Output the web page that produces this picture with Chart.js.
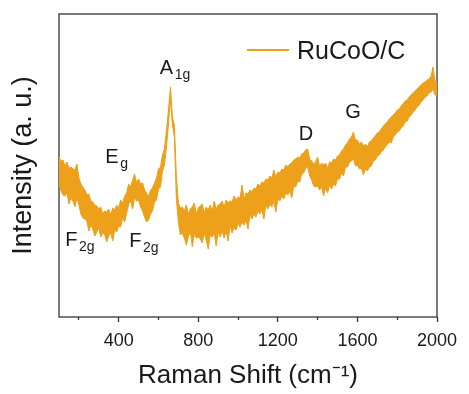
<!DOCTYPE html>
<html><head><meta charset="utf-8">
<script src="https://cdn.jsdelivr.net/npm/chart.js@4.4.1/dist/chart.umd.min.js"></script>
<style>html,body{margin:0;padding:0;background:#fff}#wrap{width:469px;height:394px}</style>
</head><body><div id="wrap"><canvas id="c" width="469" height="394"></canvas></div>
<script>
// Raman shift (cm-1)
const ramanShift = [
100,110,120,130,140,150,160,170,180,190,
200,210,220,230,240,250,260,270,280,290,
300,310,320,330,340,350,360,370,380,390,
400,410,420,430,440,450,460,470,480,490,
500,510,520,530,540,550,560,570,580,590,
600,610,620,630,640,650,660,670,680,690,
700,710,720,730,740,750,760,770,780,790,
800,810,820,830,840,850,860,870,880,890,
900,910,920,930,940,950,960,970,980,990,
1000,1010,1020,1030,1040,1050,1060,1070,1080,1090,
1100,1110,1120,1130,1140,1150,1160,1170,1180,1190,
1200,1210,1220,1230,1240,1250,1260,1270,1280,1290,
1300,1310,1320,1330,1340,1350,1360,1370,1380,1390,
1400,1410,1420,1430,1440,1450,1460,1470,1480,1490,
1500,1510,1520,1530,1540,1550,1560,1570,1580,1590,
1600,1610,1620,1630,1640,1650,1660,1670,1680,1690,
1700,1710,1720,1730,1740,1750,1760,1770,1780,1790,
1800,1810,1820,1830,1840,1850,1860,1870,1880,1890,
1900,1910,1920,1930,1940,1950,1960,1970,1980,1990,
2000];
// Intensity (a.u.): upper and lower edge of the noisy trace
const intensityUpper = [
160,156,157,151,155,149,150,148,147,153,
139,133,130,127,122,123,116,115,112,111,
108,110,103,106,105,108,102,109,107,112,
109,117,114,121,124,133,130,137,143,134,
138,133,134,127,124,120,127,129,134,139,
148,150,162,168,186,206,230,200,192,140,
114,109,110,106,112,103,108,110,114,103,
109,111,113,104,110,107,112,106,116,108,
112,113,116,110,117,114,116,115,121,117,
120,119,132,118,124,123,127,125,129,128,
133,131,135,134,138,137,141,139,147,140,
145,144,148,147,152,150,153,154,157,158,
160,159,163,164,167,168,158,156,153,155,
160,150,154,152,154,149,155,154,158,157,
161,162,166,168,172,174,178,180,185,177,
177,173,175,171,173,170,175,176,179,181,
184,185,188,191,193,195,198,200,202,204,
207,208,211,213,216,217,220,222,224,226,
228,230,232,234,235,237,238,241,250,236,
235];
const intensityLower = [
133,126,122,121,124,113,119,116,110,119,
112,103,99,98,96,86,92,88,81,85,
89,80,84,82,75,81,84,76,87,85,
91,90,99,95,104,113,116,108,120,116,
117,110,106,100,95,97,103,106,115,117,
128,130,146,152,170,192,218,192,180,118,
95,82,84,79,72,80,86,70,83,79,
80,78,74,84,77,68,82,80,84,71,
85,80,86,79,86,76,92,84,89,87,
94,90,95,92,97,88,102,98,103,100,
106,103,107,98,112,108,113,110,116,105,
118,116,121,118,124,122,126,119,131,130,
136,135,143,144,149,150,141,137,131,130,
131,127,130,121,129,124,132,128,133,131,
138,138,144,141,150,150,155,156,158,151,
152,148,149,142,148,146,150,151,156,157,
161,162,165,167,170,172,175,174,180,182,
185,186,189,191,195,196,200,202,205,207,
210,212,215,217,220,221,224,225,228,222,
222];
const seriesName = 'RuCoO/C';
const xMajorTicks = [400, 800, 1200, 1600, 2000];
const xMinorTicks = [200, 600, 1000, 1400, 1800];
// peak annotations: main letter, subscript, anchor (shift, intensity)
const peakMain = ['F', 'E', 'A', 'F', 'D', 'G'];
const peakSub = ['2g', 'g', '1g', '2g', '', ''];
const peakAtShift = [131, 333, 607, 453, 1305, 1539];
const peakAtLevel = [71, 154, 243, 70, 177, 199];

const FONT = "'Liberation Sans', Arial, Helvetica, sans-serif";
const LINE_COLOR = '#EDA01A';
const INK = '#1a1a1a';
const AXIS = '#333333';

const decor = {
  id: 'decor',
  beforeDatasetsDraw(chart) {
    const {ctx, chartArea: a} = chart;
    ctx.save();
    ctx.strokeStyle = AXIS; ctx.lineWidth = 1.3;
    ctx.strokeRect(a.left, a.top, a.right - a.left, a.bottom - a.top);
    ctx.restore();
  },
  afterDatasetsDraw(chart) {
    const {ctx} = chart;
    const xs = chart.scales.x, ys = chart.scales.y;
    ctx.save();
    ctx.fillStyle = INK;
    ctx.textBaseline = 'alphabetic';
    ctx.textAlign = 'left';
    for (let i = 0; i < peakMain.length; i++) {
      const px = xs.getPixelForValue(peakAtShift[i]);
      const py = ys.getPixelForValue(peakAtLevel[i]);
      ctx.font = '20px ' + FONT;
      ctx.fillText(peakMain[i], px, py);
      const w = ctx.measureText(peakMain[i]).width;
      if (peakSub[i]) {
        ctx.font = '14px ' + FONT;
        ctx.fillText(peakSub[i], px + w + 1.5, py + 5);
      }
    }
    // legend
    const ds = chart.data.datasets[0];
    ctx.strokeStyle = ds.borderColor; ctx.lineWidth = 2;
    ctx.beginPath(); ctx.moveTo(247, 50); ctx.lineTo(289, 50); ctx.stroke();
    ctx.font = '25px ' + FONT;
    ctx.fillText(ds.label, 297, 59);
    ctx.restore();
  }
};

new Chart(document.getElementById('c'), {
  type: 'line',
  data: {
    datasets: [{
      label: seriesName,
      data: ramanShift.map((x, i) => ({x, y: intensityUpper[i]})),
      borderColor: LINE_COLOR,
      borderWidth: 1,
      pointRadius: 0,
      tension: 0,
      fill: false
    }, {
      label: seriesName + ' (lower)',
      data: ramanShift.map((x, i) => ({x, y: intensityLower[i]})),
      borderColor: LINE_COLOR,
      backgroundColor: LINE_COLOR,
      borderWidth: 1,
      pointRadius: 0,
      tension: 0,
      fill: '-1'
    }]
  },
  options: {
    responsive: false,
    animation: false,
    devicePixelRatio: 1,
    layout: {padding: {left: 0, top: 14, right: 32, bottom: 0}},
    plugins: {legend: {display: false}, tooltip: {enabled: false}},
    scales: {
      x: {
        type: 'linear', position: 'bottom', min: 100, max: 2000, weight: 1,
        afterBuildTicks: s => { s.ticks = xMajorTicks.map(v => ({value: v})); },
        afterFit: s => { s.height = 77; },
        ticks: {font: {family: FONT, size: 18}, color: INK, padding: 8, maxRotation: 0, autoSkip: false,
                callback: v => String(v)},
        grid: {drawOnChartArea: false, drawTicks: true, tickLength: 5, tickColor: AXIS, tickWidth: 1.3},
        border: {display: false},
        title: {display: true, text: 'Raman Shift (cm⁻¹)', color: INK, font: {family: FONT, size: 26}, padding: {top: 0, bottom: 3}}
      },
      xMinor: {
        type: 'linear', position: 'bottom', min: 100, max: 2000, weight: 0,
        afterBuildTicks: s => { s.ticks = xMinorTicks.map(v => ({value: v})); },
        afterFit: s => { s.height = 0; },
        ticks: {display: false},
        grid: {drawOnChartArea: false, drawTicks: true, tickLength: 3, tickColor: AXIS, tickWidth: 1.3},
        border: {display: false}
      },
      y: {
        type: 'linear', position: 'left', min: 0, max: 303,
        afterFit: s => { s.width = 59; },
        ticks: {display: false},
        grid: {display: false},
        border: {display: false},
        title: {display: true, text: 'Intensity (a. u.)', color: INK, font: {family: FONT, size: 27}, padding: {top: 7, bottom: 0}}
      }
    }
  },
  plugins: [decor]
});
</script>
</body></html>
